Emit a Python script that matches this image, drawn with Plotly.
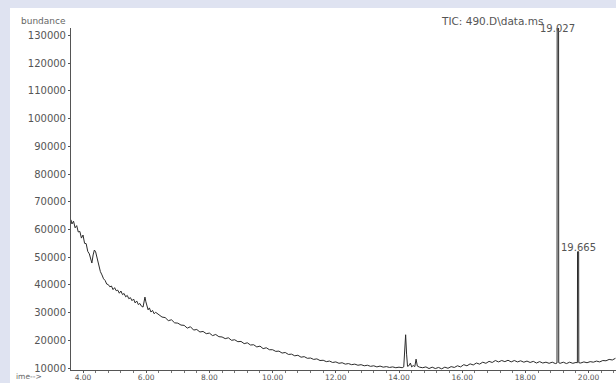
import plotly.graph_objects as go

# Retention time (min) and abundance (counts, in thousands)
retention_time = [
    3.62, 3.65, 3.70, 3.75, 3.80, 3.85, 3.90, 3.95, 4.00, 4.05, 4.10, 4.15, 4.20, 4.25, 4.28,
    4.32, 4.36, 4.40, 4.45, 4.50, 4.55, 4.60, 4.65, 4.70, 4.75, 4.80, 4.85, 4.90, 4.95, 5.00,
    5.05, 5.10, 5.15, 5.20, 5.25, 5.30, 5.35, 5.40, 5.45, 5.50, 5.55, 5.60, 5.65, 5.70, 5.75,
    5.80, 5.85, 5.90, 5.93, 5.96, 5.99, 6.02, 6.06, 6.10, 6.15, 6.20, 6.25, 6.30,
    6.40, 6.50, 6.60, 6.70, 6.80, 6.90, 7.00, 7.10, 7.20, 7.30, 7.40, 7.50, 7.60, 7.70, 7.80,
    7.90, 8.00, 8.10, 8.20, 8.30, 8.40, 8.50, 8.60, 8.70, 8.80, 8.90, 9.00, 9.10, 9.20, 9.30,
    9.40, 9.50, 9.60, 9.70, 9.80, 9.90, 10.00, 10.10, 10.20, 10.30, 10.40, 10.50, 10.60, 10.70,
    10.80, 10.90, 11.00, 11.10, 11.20, 11.30, 11.40, 11.50, 11.60, 11.70, 11.80, 11.90, 12.00,
    12.10, 12.20, 12.30, 12.40, 12.50, 12.60, 12.70, 12.80, 12.90, 13.00, 13.10, 13.20, 13.30,
    13.40, 13.50, 13.60, 13.70, 13.80, 13.90, 14.00, 14.10, 14.15, 14.18, 14.21, 14.24, 14.27,
    14.32, 14.36, 14.40, 14.45, 14.50, 14.54, 14.58, 14.65, 14.75, 14.85, 14.95, 15.05, 15.15,
    15.25, 15.35, 15.45, 15.55, 15.65, 15.75, 15.85, 15.95, 16.05, 16.15, 16.25, 16.35, 16.45,
    16.55, 16.65, 16.75, 16.85, 16.95, 17.05, 17.15, 17.25, 17.35, 17.45, 17.55, 17.65, 17.75,
    17.85, 17.95, 18.05, 18.15, 18.25, 18.35, 18.45, 18.55, 18.65, 18.75, 18.85, 18.95, 19.00,
    19.005, 19.050, 19.055, 19.10, 19.20, 19.30, 19.40, 19.50, 19.60, 19.645, 19.650, 19.685,
    19.690, 19.75, 19.85, 19.95, 20.05, 20.15, 20.25, 20.35, 20.45, 20.55, 20.65, 20.75, 20.85,
]

abundance_k = [
    63.5, 62.0, 63.0, 60.6, 61.4, 59.1, 59.3, 56.9, 58.0, 55.0, 54.9, 52.1, 51.2, 48.4, 47.9,
    50.8, 52.6, 51.9, 49.3, 46.6, 44.8, 43.6, 42.2, 41.6, 40.3, 40.1, 39.3, 39.6, 38.3, 39.0,
    37.9, 38.1, 37.0, 37.8, 36.5, 36.9, 35.7, 36.2, 35.0, 35.4, 34.3, 34.9, 33.5, 34.2, 32.9,
    33.3, 32.3, 32.0, 33.5, 35.6, 33.9, 32.6, 31.0, 31.7, 30.2, 30.8, 29.6, 30.1,
    29.3, 28.4, 28.2, 27.1, 27.4, 26.3, 26.2, 25.5, 25.4, 24.4, 24.9, 23.7, 23.9, 23.0, 23.2,
    22.4, 22.6, 21.7, 22.1, 21.3, 21.2, 20.6, 20.9, 20.0, 20.2, 19.5, 19.6, 18.8, 19.1, 18.3,
    18.4, 17.6, 17.9, 17.0, 17.3, 16.6, 16.6, 16.0, 16.1, 15.4, 15.6, 14.9, 15.0, 14.4,
    14.6, 13.9, 14.1, 13.5, 13.6, 13.1, 13.3, 12.7, 12.8, 12.3, 12.5, 12.0, 12.2,
    11.7, 11.9, 11.4, 11.6, 11.2, 11.4, 11.0, 11.2, 10.8, 11.0, 10.6, 10.8, 10.4,
    10.7, 10.3, 10.5, 10.2, 10.4, 10.1, 10.3, 10.1, 10.4, 16.0, 22.0, 15.0, 10.6,
    10.9, 11.8, 10.4, 10.9, 10.5, 13.2, 10.7, 10.3, 10.1, 10.4, 9.8, 10.3, 9.8,
    10.2, 9.7, 10.3, 9.9, 10.5, 10.2, 10.8, 10.4, 11.2, 10.8, 11.5, 11.1, 11.8,
    11.4, 12.1, 11.7, 12.4, 12.0, 12.7, 12.2, 12.7, 12.3, 12.8, 12.2, 12.7, 12.2,
    12.6, 12.1, 12.5, 12.0, 12.4, 11.8, 12.3, 11.8, 12.1, 11.7, 12.1, 11.6, 11.8,
    135.0, 135.0, 11.9, 11.7, 12.1, 11.6, 12.1, 11.7, 12.0, 11.9, 52.0, 52.0,
    11.9, 11.8, 12.2, 11.9, 12.3, 12.1, 12.5, 12.2, 12.7, 12.6, 13.1, 12.9, 13.5,
]

peak_times = [19.027, 19.665]
peak_labels = ["19.027", "19.665"]
peak_heights_k = [132.7, 52.0]

y_tick_values = [10000, 20000, 30000, 40000, 50000, 60000, 70000, 80000, 90000,
                 100000, 110000, 120000, 130000]
x_tick_values = [4, 6, 8, 10, 12, 14, 16, 18, 20]

abundance = [v * 1000 for v in abundance_k]

fig = go.Figure()
fig.add_trace(go.Scatter(
    x=retention_time, y=abundance, mode="lines",
    line=dict(color="#2b2b2b", width=1), hoverinfo="skip", showlegend=False,
))

Y_MIN, Y_MAX = 9280, 132740
X_MIN, X_MAX = 3.62, 20.867
W, H = 616, 383
ML, MR, MT, MB = 71, 0, 28, 13
PW, PH = W - ML - MR, H - MT - MB

def px_x(px):
    return (px - ML) / PW

def px_y(py):
    return (H - MB - py) / PH

annotations = []
for t, lab, hk in zip(peak_times, peak_labels, peak_heights_k):
    if hk * 1000 >= Y_MAX - 100:
        annotations.append(dict(x=t, xref="x", y=px_y(29), yref="paper", text=lab,
                                showarrow=False, xanchor="center", yanchor="middle",
                                font=dict(size=10, color="#555", family="DejaVu Sans")))
    else:
        annotations.append(dict(x=t, xref="x", y=hk * 1000, yref="y", text=lab,
                                showarrow=False, xanchor="center", yanchor="bottom",
                                yshift=-3,
                                font=dict(size=10, color="#555", family="DejaVu Sans")))

annotations += [
    dict(x=px_x(19), xref="paper", y=px_y(21), yref="paper", text="bundance",
         showarrow=False, xanchor="left", yanchor="middle",
         font=dict(size=9, color="#666", family="DejaVu Sans")),
    dict(x=px_x(439), xref="paper", y=px_y(21), yref="paper", text="TIC: 490.D\\data.ms",
         showarrow=False, xanchor="left", yanchor="middle",
         font=dict(size=10.5, color="#555", family="DejaVu Sans")),
    dict(x=px_x(14), xref="paper", y=px_y(377), yref="paper", text="ime-->",
         showarrow=False, xanchor="left", yanchor="middle",
         font=dict(size=7.5, color="#666", family="DejaVu Sans")),
]

shapes = [
    dict(type="rect", xref="paper", yref="paper", layer="below",
         x0=px_x(10), x1=px_x(W + 2), y0=px_y(H + 2), y1=px_y(8),
         fillcolor="white", line=dict(width=0)),
]

fig.update_layout(
    width=W, height=H,
    margin=dict(l=ML, r=MR, t=MT, b=MB, autoexpand=False),
    paper_bgcolor="#dfe3f1",
    plot_bgcolor="rgba(0,0,0,0)",
    annotations=annotations,
    shapes=shapes,
    xaxis=dict(
        range=[X_MIN, X_MAX], showgrid=False, zeroline=False, automargin=False,
        showline=True, linecolor="#555", linewidth=1,
        tickvals=x_tick_values, tickformat=".2f", ticks="outside", ticklen=2,
        ticklabelstandoff=-2,
        tickcolor="#555", tickfont=dict(size=7.5, color="#555", family="DejaVu Sans"),
        minor=dict(dtick=0.4, tick0=0, ticks="outside", ticklen=2, tickcolor="#777"),
    ),
    yaxis=dict(
        range=[Y_MIN, Y_MAX], showgrid=False, zeroline=False, automargin=False,
        showline=True, linecolor="#555", linewidth=1,
        tickvals=y_tick_values, tickformat="d", ticks="outside", ticklen=2,
        tickcolor="#555", tickfont=dict(size=10, color="#555", family="DejaVu Sans"),
    ),
)

fig.write_html(
    "out.html",
    config={"responsive": False, "displayModeBar": False},
    post_script="document.body.style.margin='0';document.body.style.overflow='hidden';",
)
